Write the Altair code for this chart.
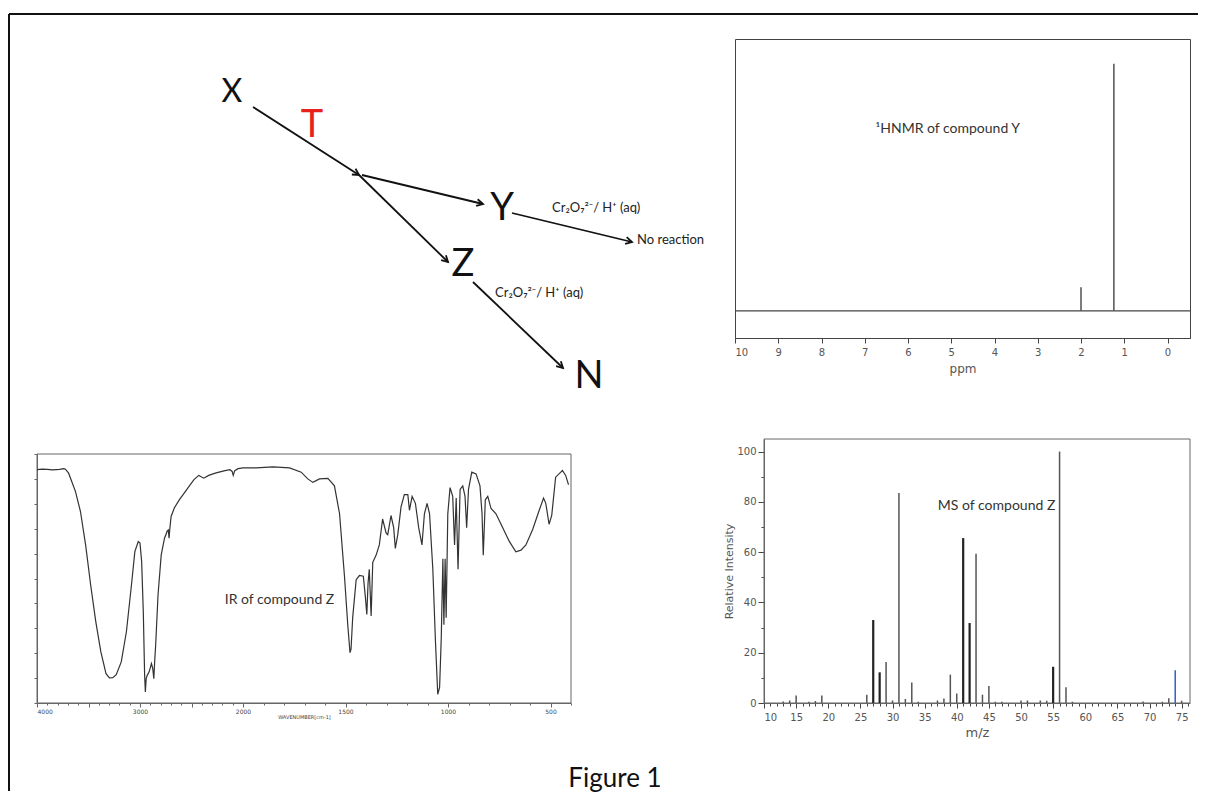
import math
import pandas as pd
import altair as alt

# ---------------- reaction scheme (diagram units) ----------------
scheme_labels = ["X", "T", "Y", "Z", "N"]
scheme_x = [232, 312, 502, 463, 589]
scheme_y = [102, 137, 220, 276, 388]

arrow_x1 = [253, 362, 357, 512, 473]
arrow_y1 = [107, 175, 173, 213, 282]
arrow_x2 = [359, 483, 448, 632, 563]
arrow_y2 = [175, 204, 262, 242, 368]

reagent_labels = ["Cr₂O₇²⁻/ H⁺ (aq)", "No reaction", "Cr₂O₇²⁻/ H⁺ (aq)"]
reagent_x = [552, 637, 495]
reagent_y = [208, 240, 293]

# ---------------- 1H NMR of compound Y ----------------
nmr_ppm = [2.00, 1.24]
nmr_intensity = [9.5, 100.0]
nmr_ticks = [i * 0.5 for i in range(21)]
nmr_baseline = [0.0]
nmr_note = ["¹HNMR of compound Y"]
nmr_note_ppm = [5.08]
nmr_note_int = [73.4]

# ---------------- MS of compound Z ----------------
ms_mz = [13, 14, 15, 17, 18, 19, 26, 27, 28, 29, 30, 31, 32, 33, 34, 37, 38, 39, 40,
         41, 42, 43, 44, 45, 46, 47, 50, 51, 53, 54, 55, 56, 57, 58, 69, 72, 73, 74, 75]
ms_int = [0.6, 1.0, 3.0, 0.5, 0.8, 3.0, 3.3, 33.0, 12.2, 16.3, 1.0, 83.5, 1.6, 8.2, 0.5,
          1.0, 1.8, 11.3, 3.8, 65.6, 31.8, 59.4, 3.3, 6.8, 0.5, 0.5, 1.0, 1.0, 1.0, 0.9,
          14.4, 100.0, 6.3, 0.5, 0.6, 0.5, 1.9, 13.0, 0.9]
ms_dark_peaks = [27, 28, 41, 42, 55]
ms_blue_peak = 74
ms_xticks = list(range(10, 77))
ms_yticks = list(range(0, 101, 10))
ms_frame = {"mz": [10.0], "mz2": [76.3], "intensity": [0.0], "intensity2": [105.0]}
ms_note = ["MS of compound Z"]
ms_note_mz = [46.2]
ms_note_int = [78.5]

# ---------------- IR of compound Z ----------------
ir_wavenumber = [4000, 3950, 3900, 3850, 3780, 3740, 3726, 3693, 3627, 3578, 3528, 3479,
                 3429, 3380, 3330, 3297, 3264, 3231, 3182, 3132, 3083, 3050, 3017, 3000,
                 2984, 2968, 2955, 2948, 2940, 2930, 2911, 2889, 2876, 2866, 2856, 2848,
                 2825, 2794, 2762, 2735, 2725, 2718, 2710, 2698, 2667, 2619, 2571, 2524,
                 2476, 2429, 2381, 2333, 2270, 2175, 2127, 2105, 2095, 2080, 2048, 2000,
                 1936, 1854, 1773, 1716, 1684, 1659, 1627, 1586, 1554, 1529, 1505, 1489,
                 1478, 1473, 1465, 1448, 1432, 1413, 1403, 1396, 1390, 1384, 1375, 1367,
                 1351, 1335, 1319, 1302, 1294, 1278, 1265, 1257, 1245, 1229, 1213, 1196,
                 1188, 1175, 1159, 1143, 1127, 1115, 1102, 1090, 1074, 1061, 1050, 1041,
                 1033, 1025, 1020, 1014, 1009, 1001, 990, 977, 968, 960, 951, 941, 928,
                 917, 909, 900, 884, 863, 844, 834, 828, 818, 806, 790, 766, 733, 701,
                 669, 644, 620, 587, 555, 534, 523, 507, 494, 475, 450, 442, 426, 413, 410]
ir_transmittance = [93.7, 93.9, 93.8, 93.6, 93.8, 94.1, 94.0, 92.3, 85.0, 76.9, 63.5, 47.4,
                    32.6, 20.5, 11.8, 10.1, 10.2, 11.4, 16.5, 28.6, 47.4, 60.8, 64.8, 64.2,
                    56.8, 36.6, 11.1, 4.4, 9.8, 11.1, 12.5, 15.8, 13.8, 9.8, 17.9, 23.2,
                    43.4, 59.5, 66.2, 69.1, 69.5, 66.2, 70.2, 74.9, 78.3, 81.6, 84.3, 87.0,
                    89.7, 91.4, 90.3, 91.4, 92.3, 93.3, 93.7, 93.0, 91.4, 93.3, 94.1, 94.4,
                    94.4, 94.8, 94.4, 92.7, 90.0, 88.6, 90.0, 90.2, 87.2, 76.0, 50.9, 31.4,
                    20.2, 21.6, 34.2, 49.5, 51.2, 50.9, 42.5, 35.6, 48.1, 53.7, 34.9, 56.5,
                    59.3, 63.5, 73.9, 68.3, 67.6, 75.3, 70.4, 62.1, 67.6, 78.8, 83.7, 83.7,
                    77.4, 83.0, 80.2, 70.4, 63.5, 76.0, 80.2, 76.0, 53.7, 24.4, 3.5, 6.3,
                    25.8, 57.9, 31.4, 57.9, 34.2, 76.0, 86.5, 83.0, 63.5, 82.3, 53.7, 85.8, 87.2,
                    83.0, 70.4, 85.8, 92.7, 92.0, 87.2, 76.0, 59.3, 81.6, 83.0, 78.1, 76.0, 70.4, 64.9,
                    60.7, 61.4, 63.5, 69.7, 77.4, 82.3, 80.2, 71.8, 75.3, 90.7, 92.7, 93.4, 91.4, 87.9, 87.9]
ir_xticks = list(range(400, 4001, 100))
ir_labels = [4000, 3000, 2000, 1500, 1000, 500]
ir_yticks = list(range(0, 101, 10))
ir_frame = {"wn": [4000], "wn2": [400], "t": [0], "t2": [100]}
ir_note = ["IR  of compound Z"]
ir_note_wn = [1822]
ir_note_t = [41.4]
caption = ["Figure 1"]

TXT_FONT = "Lato"
AX_FONT = "DejaVu Sans"

# ================= diagram panel =================
DW, DH = 534, 299
dxs = alt.Scale(domain=[37, 37 + DW], nice=False, zero=False)
dys = alt.Scale(domain=[39, 39 + DH], nice=False, zero=False, reverse=True)

nodes = pd.DataFrame({"label": scheme_labels, "x": scheme_x, "y": scheme_y})
arrows = pd.DataFrame({"x": arrow_x1, "y": arrow_y1, "x2": arrow_x2, "y2": arrow_y2})
arrows["angle"] = [
    (math.degrees(math.atan2(x2 - x1, -(y2 - y1))) + 360) % 360
    for x1, y1, x2, y2 in zip(arrow_x1, arrow_y1, arrow_x2, arrow_y2)
]
reagents = pd.DataFrame({"label": reagent_labels, "x": reagent_x, "y": reagent_y})
one = pd.DataFrame({"k": [0]})


def DX(f):
    return alt.X(f"{f}:Q", scale=dxs, axis=None)


def DY(f):
    return alt.Y(f"{f}:Q", scale=dys, axis=None)


node_text = alt.Chart(nodes).mark_text(font=TXT_FONT, baseline="alphabetic", align="center").encode(
    x=DX("x"), y=DY("y"), text="label:N",
    color=alt.when(alt.datum.label == "T").then(alt.value("#e8211d")).otherwise(alt.value("#111111")),
    size=alt.when(alt.datum.label == "X").then(alt.value(32)).otherwise(alt.value(38)),
)
shafts = alt.Chart(arrows).mark_rule(color="#111111", strokeWidth=1.8).encode(
    x=DX("x"), y=DY("y"), x2="x2:Q", y2="y2:Q"
)
heads = alt.Chart(arrows).mark_point(
    shape="M-0.6,1.1 L0,0 L0.6,1.1", filled=False, color="#111111", strokeWidth=1.8,
    size=130, opacity=1,
).encode(x=DX("x2"), y=DY("y2"), angle=alt.Angle("angle:Q", scale=None))
reagent_text = alt.Chart(reagents).mark_text(
    font=TXT_FONT, fontSize=13, align="left", baseline="middle", color="#222222"
).encode(x=DX("x"), y=DY("y"), text="label:N")
border_top = alt.Chart(one).mark_rule(color="#111111", strokeWidth=2).encode(
    x=alt.value(-28), x2=alt.value(1161), y=alt.value(-25)
)
border_left = alt.Chart(one).mark_rule(color="#111111", strokeWidth=2).encode(
    x=alt.value(-28), y=alt.value(-25), y2=alt.value(752)
)
diagram = alt.layer(border_top, border_left, shafts, heads, node_text, reagent_text).properties(
    width=DW, height=DH
)

# ================= NMR panel =================
NMR_C = "#444444"
nmr_df = pd.DataFrame({"ppm": nmr_ppm, "intensity": nmr_intensity})
nmr_x = alt.X(
    "ppm:Q",
    scale=alt.Scale(domain=[10, -0.52], nice=False, zero=False),
    axis=alt.Axis(
        values=nmr_ticks, format="d", labelOverlap=False,
        labelExpr="datum.value % 1 === 0 ? datum.label : ''",
        tickSize={"condition": {"test": "datum.value % 1 === 0", "value": 5}, "value": 3},
        grid=False, domainColor=NMR_C, tickColor=NMR_C, labelColor="#555555",
        labelFont=AX_FONT, labelFontSize=10, labelPadding=4,
        title="ppm", titleFont=AX_FONT, titleFontSize=12, titleFontWeight="normal",
        titleColor="#555555", titlePadding=6,
    ),
)
nmr_y = alt.Y("intensity:Q", scale=alt.Scale(domain=[-11, 110], nice=False, zero=False), axis=None)
nmr_base = alt.Chart(pd.DataFrame({"intensity": nmr_baseline})).mark_rule(
    color=NMR_C, strokeWidth=1.3
).encode(y=nmr_y)
nmr_peaks = alt.Chart(nmr_df).mark_rule(color=NMR_C, strokeWidth=1.4).encode(
    x=nmr_x, y=nmr_y, y2=alt.datum(0)
)
nmr_text = alt.Chart(pd.DataFrame({"ppm": nmr_note_ppm, "intensity": nmr_note_int, "label": nmr_note})).mark_text(
    font=TXT_FONT, fontSize=14, color="#333333", align="center", baseline="middle"
).encode(x=nmr_x, y=nmr_y, text="label:N")
nmr = alt.layer(nmr_base, nmr_peaks, nmr_text).properties(
    width=455, height=299, view=alt.ViewBackground(stroke=NMR_C, strokeWidth=1)
)

# ================= IR panel =================
IR_C = "#666666"
IR_H = 264
ir_df = pd.DataFrame({"wn": ir_wavenumber, "t": ir_transmittance})
ir_x = alt.X(
    "wn:Q",
    scale=alt.Scale(domain=[4000, 2000, 400], range=[0, 206, 534], nice=False, zero=False),
    axis=alt.Axis(
        values=ir_xticks, format="d", labelOverlap=False,
        labelExpr="indexof(" + str(ir_labels) + ", datum.value) >= 0 ? datum.label : ''",
        tickSize={"condition": {"test": "datum.value % 500 === 0", "value": 4}, "value": 2},
        grid=False, domainColor=IR_C, tickColor=IR_C, labelColor="#444444",
        labelFont=AX_FONT, labelFontSize=6, labelPadding=1,
        title="WAVENUMBER[cm-1]", titleFont=AX_FONT, titleFontSize=5, titleFontWeight="normal",
        titleColor="#444444", titlePadding=0,
    ),
)
ir_y = alt.Y(
    "t:Q", scale=alt.Scale(domain=[0, 100], range=[IR_H, 15], nice=False, zero=False),
    axis=alt.Axis(values=ir_yticks, labels=False, tickSize=3, grid=False,
                  domainColor=IR_C, tickColor=IR_C, title=None),
)
ir_box = alt.Chart(pd.DataFrame(ir_frame)).mark_rect(
    fillOpacity=0, stroke=IR_C, strokeWidth=1
).encode(x=ir_x, x2="wn2:Q", y=ir_y, y2="t2:Q")
ir_line = alt.Chart(ir_df).mark_line(color="#333333", strokeWidth=1.2).encode(x=ir_x, y=ir_y)
ir_text = alt.Chart(pd.DataFrame({"wn": ir_note_wn, "t": ir_note_t, "label": ir_note})).mark_text(
    font=TXT_FONT, fontSize=14, color="#333333", align="center", baseline="middle"
).encode(x=ir_x, y=ir_y, text="label:N")
cap_text = alt.Chart(pd.DataFrame({"label": caption})).mark_text(
    font=TXT_FONT, fontSize=26, color="#111111", align="center", baseline="alphabetic"
).encode(x=alt.value(578), y=alt.value(348), text="label:N")
ir = alt.layer(ir_box, ir_line, ir_text, cap_text).properties(width=534, height=IR_H)

# ================= MS panel =================
MS_C = "#666666"
MS_SHIFT = 29
ms_df = pd.DataFrame({"mz": ms_mz, "intensity": ms_int})
ms_x = alt.X(
    "mz:Q",
    scale=alt.Scale(domain=[10, 76.3], range=[MS_SHIFT, 455], nice=False, zero=False),
    axis=alt.Axis(
        values=ms_xticks, format="d", labelOverlap=False,
        labelExpr="datum.value % 5 === 0 ? datum.label : ''",
        tickSize={"condition": {"test": "datum.value % 5 === 0", "value": 5}, "value": 3},
        grid=False, domainColor=MS_C, tickColor="#444444", labelColor="#555555",
        labelFont=AX_FONT, labelFontSize=10, labelPadding=4,
        title="m/z", titleFont=AX_FONT, titleFontSize=13, titleFontWeight="normal",
        titleColor="#555555", titlePadding=4,
    ),
)
ms_y = alt.Y(
    "intensity:Q",
    scale=alt.Scale(domain=[0, 105], nice=False, zero=False),
    axis=alt.Axis(
        values=ms_yticks, format="d", labelOverlap=False, offset=-MS_SHIFT,
        labelExpr="datum.value % 20 === 0 ? datum.label : ''",
        tickSize={"condition": {"test": "datum.value % 20 === 0", "value": 6}, "value": 3},
        grid=False, domainColor=MS_C, tickColor="#444444", labelColor="#555555",
        labelFont=AX_FONT, labelFontSize=10, labelPadding=2,
        title="Relative Intensity", titleFont=AX_FONT, titleFontSize=11, titleFontWeight="normal",
        titleColor="#555555", titlePadding=2,
    ),
)
ms_box = alt.Chart(pd.DataFrame(ms_frame)).mark_rect(
    fillOpacity=0, stroke=MS_C, strokeWidth=1
).encode(x=ms_x, x2="mz2:Q", y=ms_y, y2="intensity2:Q")
dark_pred = alt.FieldOneOfPredicate(field="mz", oneOf=ms_dark_peaks)
ms_peaks = alt.Chart(ms_df).mark_rule().encode(
    x=ms_x, y=ms_y, y2=alt.datum(0),
    color=alt.when(alt.datum.mz == ms_blue_peak).then(alt.value("#2f5fd0"))
    .when(dark_pred).then(alt.value("#222222"))
    .otherwise(alt.value("#555555")),
    strokeWidth=alt.when(dark_pred).then(alt.value(2.2)).otherwise(alt.value(1.5)),
)
ms_text = alt.Chart(pd.DataFrame({"mz": ms_note_mz, "intensity": ms_note_int, "label": ms_note})).mark_text(
    font=TXT_FONT, fontSize=14, color="#333333", align="center", baseline="middle"
).encode(x=ms_x, y=ms_y, text="label:N")
ms = alt.layer(ms_box, ms_peaks, ms_text).properties(width=455, height=264)

chart = (
    alt.concat(diagram, nmr, ir, ms, columns=2, spacing={"row": 101, "column": 164},
               align="none", bounds="flush")
    .properties(padding={"left": 0, "top": 5, "right": 0, "bottom": 0}, background="white")
    .configure(font=TXT_FONT)
    .configure_view(stroke=None)
)

chart.save("out.html", embed_options={"renderer": "svg", "actions": False})
